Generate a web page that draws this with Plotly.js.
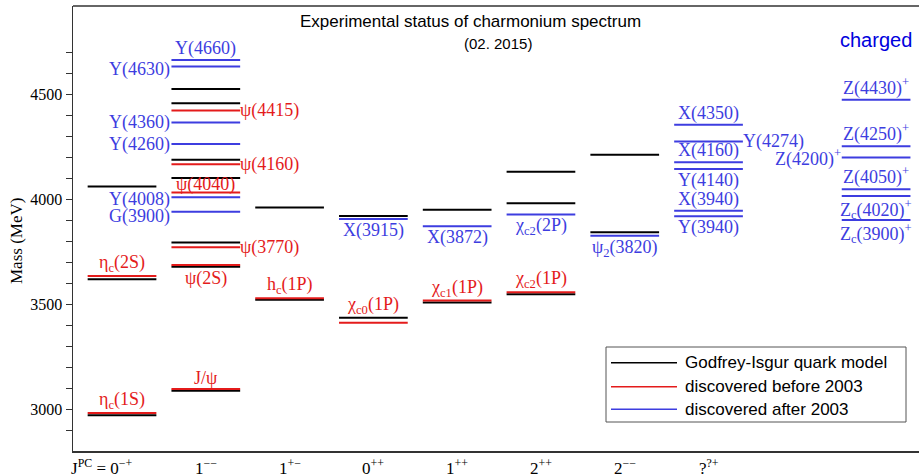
<!DOCTYPE html>
<html>
<head>
<meta charset="utf-8">
<script src="https://cdn.plot.ly/plotly-3.0.1.min.js"></script>
<style>html,body{margin:0;padding:0;background:#fff}#chart{width:919px;height:474px}</style>
</head>
<body>
<div id="chart"></div>
<script>
// ---- data ----
const columnPos = [0, 1, 2, 3, 4, 5, 6, 7];
const columnLabels = ["0<sup>−+</sup>", "1<sup>−−</sup>", "1<sup>+−</sup>", "0<sup>++</sup>", "1<sup>++</sup>", "2<sup>++</sup>", "2<sup>−−</sup>", "?<sup>?+</sup>"];
const chargedCol = 9;

const yTicks = [2900, 3000, 3100, 3200, 3300, 3400, 3500, 3600, 3700, 3800, 3900, 4000, 4100, 4200, 4300, 4400, 4500, 4600, 4700];
const yTickText = ["", "3000", "", "", "", "", "3500", "", "", "", "", "4000", "", "", "", "", "4500", "", ""];

// Godfrey-Isgur quark model (black)
const giCol  = [0, 0, 0, 1, 1, 1, 1, 1, 1, 1, 2, 2, 3, 3, 4, 4, 5, 5, 5, 6, 6];
const giMass = [4060, 3618, 2970, 4524, 4457, 4187, 4100, 3793, 3678, 3087, 3960, 3520, 3920, 3435, 3949, 3508, 4130, 3980, 3547, 4211, 3842];

// discovered before 2003 (red)
const oldCol  = [0, 0, 1, 1, 1, 1, 1, 1, 2, 3, 4, 5];
const oldMass = [3634, 2981, 4422, 4166, 4031, 3771, 3686, 3095, 3528, 3411, 3517, 3556];
const oldName = ["η<sub>c</sub>(2S)", "η<sub>c</sub>(1S)", "ψ(4415)", "ψ(4160)", "ψ(4040)", "ψ(3770)", "ψ(2S)", "J/ψ",
                 "h<sub>c</sub>(1P)", "χ<sub>c0</sub>(1P)", "χ<sub>c1</sub>(1P)", "χ<sub>c2</sub>(1P)"];

// discovered after 2003 (blue)
const newCol  = [1, 1, 1, 1, 1, 1, 3, 4, 5, 6, 7, 7, 7, 7, 7, 7, 9, 9, 9, 9, 9, 9];
const newMass = [4663, 4632, 4365, 4262, 4009, 3940, 3905, 3871, 3927, 3826, 4354, 4274, 4176, 4144, 3945, 3918, 4473, 4252, 4198, 4047, 4015, 3901];
const newName = ["Y(4660)", "Y(4630)", "Y(4360)", "Y(4260)", "Y(4008)", "G(3900)", "X(3915)", "X(3872)",
                 "χ<sub>c2</sub>(2P)", "ψ<sub>2</sub>(3820)", "X(4350)", "Y(4274)", "X(4160)", "Y(4140)", "X(3940)", "Y(3940)",
                 "Z(4430)<sup>+</sup>", "Z(4250)<sup>+</sup>", "Z(4200)<sup>+</sup>", "Z(4050)<sup>+</sup>",
                 "Z<sub>c</sub>(4020)<sup>+</sup>", "Z<sub>c</sub>(3900)<sup>+</sup>"];

const legendNames = ["Godfrey-Isgur quark model", "discovered before 2003", "discovered after 2003"];

// ---- label placement (layout only) ----
const oldSide = ["above", "above", "right", "right", "above", "right", "below", "above", "above", "above", "above", "above"];
const oldDy   = [0, 0, 0, 0, -3, 0, -2, 0, 0, 5, 0, 0];
const newSide = ["above", "left", "left", "left", "left", "left", "below", "below", "below", "below",
                 "above", "right", "above", "below", "above", "below",
                 "above", "above", "left", "above", "below", "below"];
const newDy   = [0, -3, 0, 0, -2, -5, 0, 0, 0, 0, 0, 0, 0, 0, 0, 0, 0, 0, 0, 0, 0, 0];

// ---- styles ----
const BLACK = "#000000", RED = "#e41b1b", BLUE = "#3d3de0";
const HW = 0.41;
const SERIF = "Liberation Serif, Times New Roman, serif";
const SANS = "Liberation Sans, Arial, sans-serif";

function levelTrace(cols, masses, color) {
  const x = [], y = [];
  cols.forEach((c, i) => { x.push(c - HW, c + HW, null); y.push(masses[i], masses[i], null); });
  return { type: "scatter", mode: "lines", x, y, line: { color, width: 2 }, hoverinfo: "skip", showlegend: false };
}

function labelAnns(cols, masses, names, sides, dys, color) {
  return names.map((t, i) => {
    const a = { text: t, y: masses[i], xref: "x", yref: "y", showarrow: false,
      font: { family: SERIF, size: 18, color } };
    const s = sides[i];
    if (s === "above") { a.x = cols[i]; a.xanchor = "center"; a.yanchor = "bottom"; a.yshift = -1 + dys[i]; }
    else if (s === "below") { a.x = cols[i]; a.xanchor = "center"; a.yanchor = "top"; a.yshift = 1 + dys[i]; }
    else if (s === "left") { a.x = cols[i] - HW; a.xanchor = "right"; a.yanchor = "middle"; a.xshift = 1; a.yshift = dys[i]; }
    else { a.x = cols[i] + HW; a.xanchor = "left"; a.yanchor = "middle"; a.xshift = -2; a.yshift = dys[i]; }
    return a;
  });
}

const traces = [
  levelTrace(giCol, giMass, BLACK),
  levelTrace(oldCol, oldMass, RED),
  levelTrace(newCol, newMass, BLUE)
];

const annotations = [
  ...labelAnns(oldCol, oldMass, oldName, oldSide, oldDy, RED),
  ...labelAnns(newCol, newMass, newName, newSide, newDy, BLUE)
];

// column (J^PC) labels
columnPos.forEach((c, i) => {
  annotations.push({ text: i === 0 ? "J<sup>PC</sup> = " + columnLabels[i] : columnLabels[i],
    x: c, xref: "x", y: 0, yref: "paper", xanchor: i === 0 ? "right" : "center", xshift: i === 0 ? 12 : 0,
    yanchor: "top", yshift: -3, showarrow: false, font: { family: SERIF, size: 17, color: "#000" } });
});

// titles
annotations.push({ text: "Experimental status of charmonium spectrum", xref: "paper", yref: "paper",
  x: (470 - 73) / 846, y: 1, xanchor: "center", yanchor: "middle", yshift: -15, showarrow: false,
  font: { family: SANS, size: 17, color: "#000" } });
annotations.push({ text: "(02. 2015)", xref: "paper", yref: "paper",
  x: (498 - 73) / 846, y: 1, xanchor: "center", yanchor: "middle", yshift: -37, showarrow: false,
  font: { family: SANS, size: 15, color: "#000" } });
annotations.push({ text: "charged", x: chargedCol, xref: "x", yref: "paper", y: 1,
  xanchor: "center", yanchor: "middle", yshift: -34, showarrow: false,
  font: { family: SANS, size: 20, color: "#0000dd" } });
annotations.push({ text: "Mass (MeV)", xref: "paper", yref: "paper", x: 0, xshift: -56,
  y: (451 - 241) / 445, textangle: -90, xanchor: "center", yanchor: "middle", showarrow: false,
  font: { family: SERIF, size: 17, color: "#000" } });

// legend (drawn)
const legColors = [BLACK, RED, BLUE];
const legY = [362.7, 386.7, 409.3];
const shapes = [
  { type: "line", xref: "paper", yref: "paper", x0: 0, x1: 1, y0: 1, y1: 1, line: { color: "#333", width: 1.5 } },
  { type: "rect", xref: "paper", yref: "paper", x0: (606 - 73) / 846, x1: (906 - 73) / 846,
    y0: (451 - 422) / 445, y1: (451 - 347) / 445, line: { color: "#555", width: 1 }, fillcolor: "rgba(0,0,0,0)" }
];
legendNames.forEach((n, i) => {
  const yy = (451 - legY[i]) / 445;
  shapes.push({ type: "line", xref: "paper", yref: "paper", x0: (611 - 73) / 846, x1: (677 - 73) / 846,
    y0: yy, y1: yy, line: { color: legColors[i], width: 1.5 } });
  annotations.push({ text: n, xref: "paper", yref: "paper", x: (683 - 73) / 846, y: yy,
    xanchor: "left", yanchor: "middle", showarrow: false, font: { family: SANS, size: 17, color: "#000" } });
});

const layout = {
  width: 919, height: 474,
  margin: { l: 73, r: 0, t: 6, b: 23 },
  paper_bgcolor: "#fff", plot_bgcolor: "#fff",
  showlegend: false,
  xaxis: { range: [-0.585, 9.512], showgrid: false, zeroline: false, showline: true, linecolor: "#333", linewidth: 1.5,
    ticks: "", showticklabels: false, fixedrange: true },
  yaxis: { range: [2800, 4920], showgrid: false, zeroline: false, showline: true, linecolor: "#333", linewidth: 1.5,
    tickmode: "array", tickvals: yTicks, ticktext: yTickText, ticks: "outside", ticklen: 6, tickcolor: "#333", tickwidth: 1,
    tickfont: { family: SERIF, size: 16, color: "#000" }, fixedrange: true },
  shapes, annotations
};

Plotly.newPlot("chart", traces, layout, { staticPlot: true, displayModeBar: false });
</script>
</body>
</html>
